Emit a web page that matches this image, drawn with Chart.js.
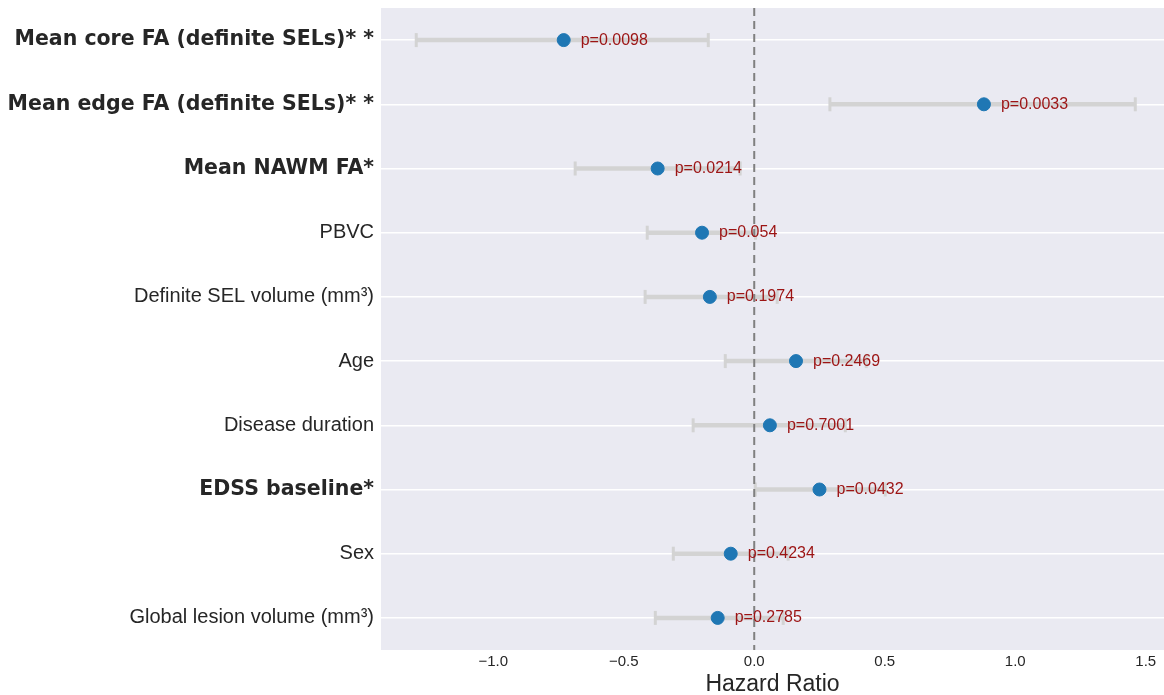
<!DOCTYPE html>
<html>
<head>
<meta charset="utf-8">
<script src="https://cdn.jsdelivr.net/npm/chart.js@4.4.1/dist/chart.umd.min.js"></script>
<style>
    html, body { margin: 0; padding: 0; background: #ffffff; overflow: hidden; }
    canvas { display: block; }
</style>
</head>
<body>
<canvas id="chart" width="1164" height="695"></canvas>
<script>
// Data
const labels = [
    'Mean core FA (definite SELs)* *',
    'Mean edge FA (definite SELs)* *',
    'Mean NAWM FA*',
    'PBVC',
    'Definite SEL volume (mm³)',
    'Age',
    'Disease duration',
    'EDSS baseline*',
    'Sex',
    'Global lesion volume (mm³)'
];
const significant = [true, true, true, false, false, false, false, true, false, false];
const hazard = [-0.73, 0.88, -0.37, -0.20, -0.17, 0.16, 0.06, 0.25, -0.09, -0.14];
const ciLow = [-1.295, 0.29, -0.686, -0.41, -0.418, -0.111, -0.234, 0.004, -0.31, -0.379];
const ciHigh = [-0.176, 1.46, -0.054, 0.005, 0.088, 0.429, 0.349, 0.502, 0.13, 0.111];
const pValues = ['p=0.0098', 'p=0.0033', 'p=0.0214', 'p=0.054', 'p=0.1974',
                 'p=0.2469', 'p=0.7001', 'p=0.0432', 'p=0.4234', 'p=0.2785'];
const xTicks = [-1.0, -0.5, 0.0, 0.5, 1.0, 1.5];

// Colours
const BG = '#eaeaf2';
const CI_COLOR = '#d3d3d3';
const POINT_COLOR = '#1f77b4';
const P_COLOR = '#9c1414';
const TEXT = '#262626';

// Shaded plot area
const plotBackground = {
    id: 'plotBackground',
    beforeDraw(chart) {
        const { ctx, chartArea: a } = chart;
        ctx.save();
        ctx.fillStyle = BG;
        ctx.fillRect(a.left, a.top, a.right - a.left, a.bottom - a.top);
        ctx.restore();
    }
};

// p-value text next to each point
const pLabels = {
    id: 'pLabels',
    afterDatasetsDraw(chart) {
        const { ctx, scales } = chart;
        ctx.save();
        ctx.font = '16px "Liberation Sans", Arial, sans-serif';
        ctx.fillStyle = P_COLOR;
        ctx.textAlign = 'left';
        ctx.textBaseline = 'middle';
        hazard.forEach((v, i) => {
            const x = scales.x.getPixelForValue(v) + 17;
            const y = scales.y.getPixelForValue(i);
            ctx.fillText(pValues[i], x, y);
        });
        ctx.restore();
    }
};

// one dataset per confidence interval, caps drawn as rotated line points
const ciSets = labels.map((_, i) => ({
    type: 'line',
    data: [{ x: ciLow[i], y: i }, { x: ciHigh[i], y: i }],
    borderColor: CI_COLOR,
    borderWidth: 4.5,
    pointStyle: 'line',
    rotation: 90,
    pointRadius: 7,
    pointBorderWidth: 3,
    pointBorderColor: CI_COLOR,
    pointHoverRadius: 7,
    order: 3
}));

const zeroLine = {
    type: 'line',
    data: [{ x: 0, y: -0.5 }, { x: 0, y: 9.5 }],
    borderColor: '#808080',
    borderWidth: 2,
    borderDash: [8, 5],
    pointRadius: 0,
    order: 2
};

const pointSet = {
    type: 'scatter',
    data: hazard.map((v, i) => ({ x: v, y: i })),
    backgroundColor: POINT_COLOR,
    borderColor: POINT_COLOR,
    pointRadius: 6.5,
    pointHoverRadius: 6.5,
    order: 1
};

new Chart(document.getElementById('chart'), {
    type: 'scatter',
    data: { datasets: [...ciSets, zeroLine, pointSet] },
    options: {
        responsive: false,
        animation: false,
        devicePixelRatio: 1,
        layout: { autoPadding: false, padding: { top: 8, right: 0, bottom: 0, left: 0 } },
        plugins: {
            legend: { display: false },
            tooltip: { enabled: false }
        },
        scales: {
            x: {
                type: 'linear',
                min: -1.43,
                max: 1.57,
                border: { display: false },
                grid: { display: false, drawTicks: false },
                afterBuildTicks: scale => { scale.ticks = xTicks.map(v => ({ value: v })); },
                afterFit: scale => {
                    scale.height = 45;
                    scale.paddingLeft = 0;
                    scale.paddingRight = 0;
                },
                ticks: {
                    includeBounds: false,
                    padding: 3,
                    color: TEXT,
                    font: { family: '"Liberation Sans", Arial, sans-serif', size: 15 },
                    callback: v => v.toFixed(1).replace('-', '\u2212')
                },
                title: {
                    display: true,
                    text: 'Hazard Ratio',
                    color: TEXT,
                    padding: { top: 0, bottom: 0 },
                    font: { family: '"Liberation Sans", Arial, sans-serif', size: 23, lineHeight: 0.9 }
                }
            },
            y: {
                type: 'linear',
                min: -0.5,
                max: 9.5,
                reverse: true,
                border: { display: false },
                grid: { color: '#ffffff', lineWidth: 1.5, drawTicks: false },
                afterBuildTicks: scale => { scale.ticks = labels.map((_, i) => ({ value: i })); },
                afterFit: scale => {
                    scale.width = 381;
                    scale.paddingTop = 0;
                    scale.paddingBottom = 0;
                },
                ticks: {
                    padding: 7,
                    color: TEXT,
                    font: ctx => significant[ctx.index]
                        ? { family: '"DejaVu Sans", sans-serif', size: 20.5, weight: 'bold' }
                        : { family: '"Liberation Sans", Arial, sans-serif', size: 20 },
                    callback: (v, i) => labels[i]
                }
            }
        }
    },
    plugins: [plotBackground, pLabels]
});
</script>
</body>
</html>
